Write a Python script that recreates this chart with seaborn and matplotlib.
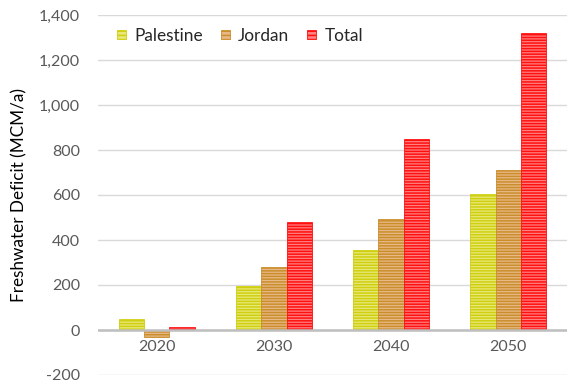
import matplotlib
matplotlib.use("Agg")
import matplotlib.pyplot as plt
import matplotlib.ticker as mticker
import seaborn as sns
import pandas as pd
import numpy as np

years = ["2020", "2030", "2040", "2050"]
palestine = [48, 196, 355, 605]
jordan = [-33, 280, 492, 711]
total = [14, 478, 849, 1318]
series = ["Palestine", "Jordan", "Total"]
yticks = [-200, 0, 200, 400, 600, 800, 1000, 1200, 1400]

line_colors = {"Palestine": "#cfcf10", "Jordan": "#c98e2a", "Total": "#ff1010"}
fill_colors = {"Palestine": "#e8e87a", "Jordan": "#e8b888", "Total": "#ff8080"}

df = pd.DataFrame({
    "Year": years * 3,
    "Series": ["Palestine"] * 4 + ["Jordan"] * 4 + ["Total"] * 4,
    "Value": palestine + jordan + total,
})

sns.set_theme(style="white")
plt.rcParams["font.family"] = ["Lato", "DejaVu Sans"]
plt.rcParams["hatch.linewidth"] = 1.1

fig = plt.figure(figsize=(5.67, 3.85), dpi=100)
ax = fig.add_axes([98 / 567, 1 - 375 / 385, 1 - 98 / 567, 360 / 385])

sns.barplot(data=df, x="Year", y="Value", hue="Series", hue_order=series,
            palette=fill_colors, width=0.65, ax=ax, legend=False, errorbar=None)

for cont, s in zip(ax.containers, series):
    for p in cont:
        p.set_facecolor(fill_colors[s])
        p.set_edgecolor(line_colors[s])
        p.set_hatch("------")
        p.set_linewidth(0.6)

ax.set_ylim(-200, 1400)
ax.set_yticks(yticks)
ax.yaxis.set_major_formatter(mticker.FuncFormatter(lambda v, _: f"{int(v):,}"))
ax.grid(axis="y", color="#d9d9d9", linewidth=1)
ax.set_axisbelow(True)
ax.axhline(0, color="#bfbfbf", linewidth=1.8, zorder=1.5)
ax.spines["bottom"].set_position(("data", 0))
for sp in ax.spines.values():
    sp.set_visible(False)
ax.tick_params(axis="y", length=0, labelsize=11.5, colors="#595959", pad=13)
ax.tick_params(axis="x", length=0, labelsize=11.5, colors="#595959", pad=7)
ax.set_xlabel("")
ax.set_ylabel("Freshwater Deficit (MCM/a)", fontsize=12.3, color="#000000", labelpad=8)

handles = [plt.Rectangle((0, 0), 1, 1, facecolor=fill_colors[s], edgecolor=line_colors[s],
                         hatch="----", linewidth=0.6) for s in series]
ax.legend(handles, series, loc="upper left", bbox_to_anchor=(0.0405, 0.965), ncol=3,
          frameon=False, fontsize=12.4, handlelength=0.5, handleheight=0.5,
          handletextpad=0.5, columnspacing=1.05, borderpad=0, borderaxespad=0)

fig.savefig("out.png", dpi=100)
